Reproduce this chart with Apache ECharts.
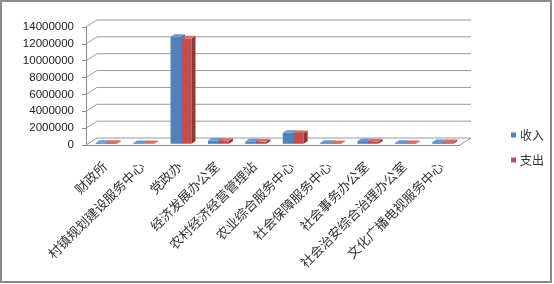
<!DOCTYPE html>
<html>
<head>
<meta charset="utf-8">
<script src="https://cdn.jsdelivr.net/npm/echarts@6/dist/echarts.min.js"></script>
<style>html,body{margin:0;padding:0;background:#fff;}#c{width:554px;height:284px;}</style>
</head>
<body>
<div id="c"></div>
<script>
var categories = ['财政所','村镇规划建设服务中心','党政办','经济发展办公室','农村经济经营管理站','农业综合服务中心','社会保障服务中心','社会事务办公室','社会治安综合治理办公室','文化广播电视服务中心'];
var income = [120000, 80000, 12700000, 380000, 280000, 1300000, 100000, 320000, 100000, 200000];
var expense = [100000, 70000, 12500000, 360000, 260000, 1280000, 90000, 300000, 90000, 190000];
var yTicks = [0, 2000000, 4000000, 6000000, 8000000, 10000000, 12000000, 14000000];
var seriesNames = ['收入', '支出'];

var DX = 11, DY = -7;      // wall depth
var BDX = 4, BDY = -2.6;   // bar depth
var colors = [
  {front:'#4F81BD', top:'#6A96CC', side:'#3A6495'},
  {front:'#C0504D', top:'#CF706D', side:'#8E3A38'}
];

function gridRender(params, api) {
  var v = api.value(1);
  var band = api.size([1, 0])[0];
  var p0 = api.coord([0, v]);
  var p9 = api.coord([categories.length - 1, v]);
  var left = p0[0] - band / 2, right = p9[0] + band / 2, y = p0[1];
  var pts = [[left, y], [left + DX, y + DY], [right + DX, y + DY]];
  if (v === 0) pts.push([right, y]);
  return {type:'polyline', shape:{points: pts}, style:{stroke:'#9a9a9a', lineWidth:1, fill:null}};
}

function barRender(k) {
  return function (params, api) {
    var i = api.value(0), v = api.value(1);
    var band = api.size([1, 0])[0];
    var base = api.coord([i, 0]);
    var top = api.coord([i, v]);
    var w = band * 0.28;
    var x0 = base[0] + 1.5 + (k === 0 ? -w : 0);
    var yb = base[1] - 1.2, yt = top[1] - 1.2;
    var c = colors[k];
    return {type:'group', children:[
      {type:'rect', shape:{x:x0, y:yt, width:w, height:Math.max(yb - yt, 0)}, style:{fill:c.front}},
      {type:'polygon', shape:{points:[[x0+w, yt],[x0+w+BDX, yt+BDY],[x0+w+BDX, yb+BDY],[x0+w, yb]]}, style:{fill:c.side}},
      {type:'polygon', shape:{points:[[x0, yt],[x0+w, yt],[x0+w+BDX, yt+BDY],[x0+BDX, yt+BDY]]}, style:{fill:c.top}}
    ]};
  };
}

var chart = echarts.init(document.getElementById('c'), null, {renderer:'canvas'});
chart.setOption({
  animation: false,
  backgroundColor: '#fff',
  graphic: [{type:'rect', shape:{x:1, y:1, width:550, height:281}, style:{fill:null, stroke:'#8c8c8c', lineWidth:2}, z:100}],
  legend: {
    orient:'vertical', left:506, top:123, itemWidth:5, itemHeight:5, itemGap:11,
    icon:'rect',
    textStyle:{fontSize:12, color:'#333', fontFamily:'Noto Sans CJK SC', lineHeight:14, padding:[0,0,0,-1]},
    data: seriesNames
  },
  grid: {left:86, right:94, top:27, bottom:139},
  xAxis: {
    type:'category', data:categories, boundaryGap:true,
    axisLine:{lineStyle:{color:'#8a8a8a'}},
    axisTick:{length:4, lineStyle:{color:'#8a8a8a'}},
    axisLabel:{rotate:45, interval:0, margin:19, padding:[8,0,0,0], fontSize:13, color:'#333', fontFamily:'Noto Sans CJK SC'}
  },
  yAxis: {
    type:'value', min:0, max:14000000, interval:2000000,
    axisLine:{show:true, lineStyle:{color:'#8a8a8a'}},
    axisTick:{show:true, length:4, lineStyle:{color:'#8a8a8a'}},
    splitLine:{show:false},
    axisLabel:{margin:12, fontSize:11.5, color:'#222', fontFamily:'Liberation Sans', formatter:function(v){return String(v);}}
  },
  series: [
    {type:'custom', name:'grid', silent:true, z:1, renderItem:gridRender, data: yTicks.map(function(v){return [0, v];})},
    {type:'custom', name:seriesNames[0], z:3, itemStyle:{color:colors[0].front}, renderItem:barRender(0), data: income.map(function(v,i){return [i, v];})},
    {type:'custom', name:seriesNames[1], z:4, itemStyle:{color:colors[1].front}, renderItem:barRender(1), data: expense.map(function(v,i){return [i, v];})}
  ]
});
</script>
</body>
</html>
